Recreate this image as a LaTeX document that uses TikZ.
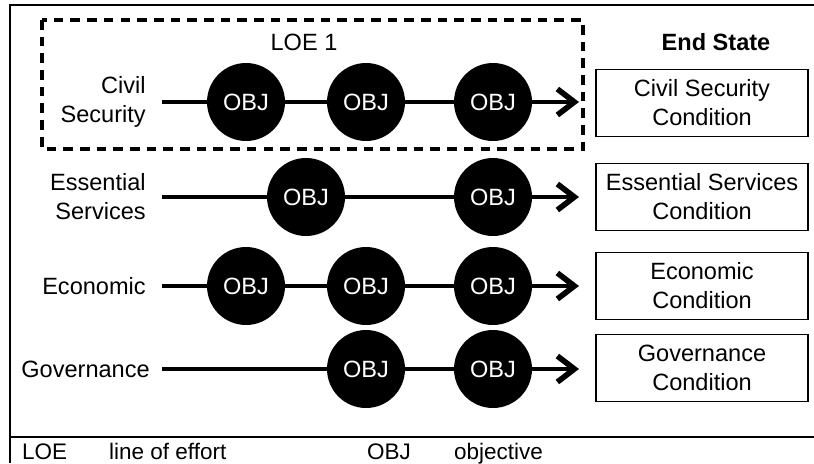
\documentclass[tikz,border=0pt]{standalone}
\usepackage{fontspec}
\setmainfont{Liberation Sans}
\usepackage{tikz}
\usetikzlibrary{arrows.meta}

\tikzset{
  obj/.style={circle,fill=black,text=white,minimum size=1.56cm,inner sep=0pt},
  lbl/.style={anchor=east,align=right,inner sep=0.32cm},
  endbox/.style={draw,line width=1.1pt,minimum width=4.24cm,minimum height=1.34cm,align=center,inner sep=0pt},
  link/.style={line width=2.6pt},
  loe/.style={line width=2.6pt,-{Straight Barb[length=0.34cm,width=0.52cm,line width=3.2pt]}},
  key/.style={anchor=base west,font=\fontsize{12.8}{14}\selectfont},
}

\begin{document}
\begin{tikzpicture}[x=0.02cm,y=-0.02cm,font=\fontsize{13.4}{16.5}\selectfont]
\useasboundingbox (0,0) rectangle (814,463);
\draw[line width=1.2pt] (814,5) -- (10,5) -- (10,463);
\draw[line width=1.2pt] (10,437) -- (814,437);
\draw[line width=2.4pt,dash pattern=on 5.5pt off 4pt] (42,20) rectangle (583,149);
\node (loe1) at (304,42) {LOE 1};
\node[font=\fontsize{13.4}{16.5}\selectfont\bfseries] (endstate) at (716,42) {End State};
% rows
\node[lbl] (civ) at (162,102) {Civil\\Security};
\node[lbl] (ess) at (162,197) {Essential\\Services};
\node[lbl] (eco) at (162,286) {Economic};
\node[lbl,inner sep=0.24cm] (gov) at (162,369) {Governance};
\foreach \n/\y in {1/102,2/197,3/286,4/369}
  \coordinate (tip\n) at (579,\y);
\node[obj] (o11) at (246,102) {OBJ};
\node[obj] (o12) at (366,102) {OBJ};
\node[obj] (o13) at (493,102) {OBJ};
\node[obj] (o21) at (306,197) {OBJ};
\node[obj] (o22) at (493,197) {OBJ};
\node[obj] (o31) at (246,286) {OBJ};
\node[obj] (o32) at (366,286) {OBJ};
\node[obj] (o33) at (493,286) {OBJ};
\node[obj] (o41) at (366,369) {OBJ};
\node[obj] (o42) at (493,369) {OBJ};
\draw[link] (civ.east) -- (o11) -- (o12) -- (o13);
\draw[link] (ess.east) -- (o21) -- (o22);
\draw[link] (eco.east) -- (o31) -- (o32) -- (o33);
\draw[link] (gov.east) -- (o41) -- (o42);
\draw[loe] (o13) -- (tip1);
\draw[loe] (o22) -- (tip2);
\draw[loe] (o33) -- (tip3);
\draw[loe] (o42) -- (tip4);
% end states
\node[endbox] (es1) at (702,103) {Civil Security\\Condition};
\node[endbox] (es2) at (702,197) {Essential Services\\Condition};
\node[endbox] (es3) at (702,286) {Economic\\Condition};
\node[endbox] (es4) at (702,368) {Governance\\Condition};
% legend
\node[key] (k1) at (16,459) {LOE};
\node[key] (v1) at (103,459) {line of effort};
\node[key] (k2) at (361,459) {OBJ};
\node[key] (v2) at (448,459) {objective};
\end{tikzpicture}
\end{document}
